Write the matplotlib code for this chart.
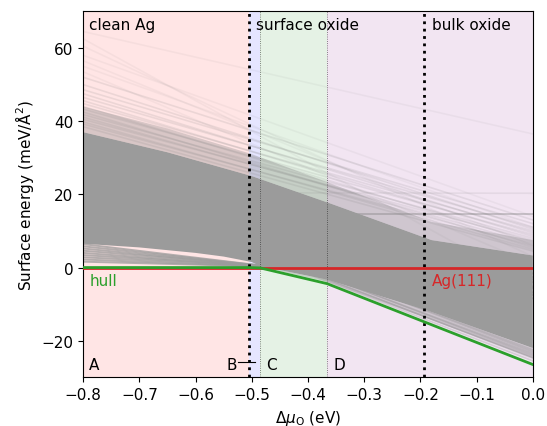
import matplotlib
matplotlib.use("Agg")
import matplotlib.pyplot as plt
import numpy as np

# phase boundaries (eV)
mu_ab = -0.505
mu_bc = -0.485
mu_cd = -0.366
mu_bulk = -0.193

# convex hull of the surface energies
hull_mu = [-0.8, -0.505, -0.485, -0.366, 0.0]
hull_gamma = [0.0, 0.0, -0.1, -4.4, -26.5]

# dense core of the candidate structures (upper / lower edge)
core_top_mu = [-0.8, -0.65, -0.5, -0.36, -0.18, 0.0]
core_top_gamma = [37.0, 31.5, 25.0, 17.5, 7.5, 3.3]
core_bot_mu = [-0.8, -0.7, -0.6, -0.55, -0.5, -0.485, -0.366, -0.183, 0.0]
core_bot_gamma = [6.5, 5.5, 4.0, 3.0, 1.5, 0.4, -3.3, -12.0, -22.0]

# softer fringe above and below the core
halo_top_mu = [-0.8, -0.65, -0.5, -0.36, -0.18, 0.0]
halo_top_gamma = [44.0, 38.0, 31.0, 23.0, 12.5, 7.5]
halo_bot_mu = [-0.485, -0.366, -0.183, 0.0]
halo_bot_gamma = [0.2, -3.9, -14.2, -24.8]

# single structures, gamma at mu=-0.8 and at mu=0
edge_left = [38.5, 39.2, 39.8, 40.5, 41.1, 41.8, 42.5, 43.3, 44.0, 44.8,
             45.6, 46.5, 47.5, 48.6, 50.0, 52.0]
edge_right = [4.5, 6.0, 5.0, 7.5, 6.5, 8.0, 5.5, 9.0, 7.0, 10.0,
              8.5, 11.0, 9.5, 12.0, 10.5, 13.0]
sparse_left = [64.5, 62.5, 60.5, 58.0, 56.5, 55.0, 53.5]
sparse_right = [36.5, -5.0, 3.0, 14.0, 6.0, 11.0, 1.0]
lower_left = [22.0, 22.5, 23.0, 22.2, 24.0, 21.8, 23.5, 25.0]
lower_right = [-25.5, -24.8, -24.0, -23.5, -23.0, -24.5, -22.5, -21.5]
streak_left = [1.6, 2.2, 2.8, 3.4, 4.0, 4.6, 5.2, 5.8, 6.4]
streak_right = [-1.6, -2.6, -3.2, -4.0, -5.2, -5.6, -6.8, -7.5, -8.4]
flat_left = [14.5, 20.5]
flat_right = [14.5, 20.3]

fig, ax = plt.subplots(figsize=(5.47, 4.27), dpi=100)
fig.subplots_adjust(left=0.152, right=0.974, top=0.971, bottom=0.114)

ax.axvspan(-0.8, mu_ab, color="red", alpha=0.1, lw=0, zorder=0)
ax.axvspan(mu_ab, mu_bc, color="blue", alpha=0.1, lw=0, zorder=0)
ax.axvspan(mu_bc, mu_cd, color="green", alpha=0.1, lw=0, zorder=0)
ax.axvspan(mu_cd, 0.0, color="purple", alpha=0.1, lw=0, zorder=0)

# halo: fuzzy fringe of the band
ax.fill(halo_top_mu + core_top_mu[::-1], halo_top_gamma + core_top_gamma[::-1],
        color="gray", alpha=0.3, lw=0, zorder=0.8)
ax.fill(halo_bot_mu + core_bot_mu[::-1][:4], halo_bot_gamma + core_bot_gamma[::-1][:4],
        color="gray", alpha=0.3, lw=0, zorder=0.8)

ends = [-0.8, 0.0]
for a, b in zip(edge_left, edge_right):
    ax.plot(ends, [a, b], color="gray", alpha=0.15, lw=1.2, zorder=1)
for a, b in zip(sparse_left, sparse_right):
    ax.plot(ends, [a, b], color="gray", alpha=0.07, lw=1.2, zorder=1)
for a, b in zip(lower_left, lower_right):
    ax.plot(ends, [a, b], color="gray", alpha=0.25, lw=1.2, zorder=1)
for a, b in zip(streak_left, streak_right):
    ax.plot(ends, [a, b], color="#9b9b9b", alpha=0.75, lw=1.4, zorder=1)
ax.plot(ends, [flat_left[0], flat_right[0]], color="gray", alpha=0.45, lw=1.2, zorder=1)
ax.plot(ends, [flat_left[1], flat_right[1]], color="gray", alpha=0.12, lw=1.2, zorder=1)

# core band drawn over the single lines
poly_x = core_top_mu + core_bot_mu[::-1]
poly_y = core_top_gamma + core_bot_gamma[::-1]
ax.fill(poly_x, poly_y, color="#9b9b9b", lw=0, zorder=1.5)

# boundaries
for m in [mu_bc, mu_cd]:
    ax.axvline(m, color="k", ls=":", lw=0.6, alpha=0.6, zorder=2)
for m in [mu_ab, mu_bulk]:
    ax.axvline(m, color="k", ls=":", lw=2, zorder=2)

ax.plot([-0.8, 0.0], [0, 0], color="tab:red", lw=2, zorder=3)
ax.plot(hull_mu, hull_gamma, color="tab:green", lw=2, zorder=4)

ax.text(-0.789, 66.3, "clean Ag", fontsize=11, va="center")
ax.text(-0.493, 66.3, "surface oxide", fontsize=11, va="center")
ax.text(-0.179, 66.3, "bulk oxide", fontsize=11, va="center")
ax.text(-0.788, -3.5, "hull", color="tab:green", fontsize=11, va="center")
ax.text(-0.179, -3.6, "Ag(111)", color="tab:red", fontsize=11, va="center")

ax.text(-0.789, -26.6, "A", fontsize=11, va="center")
ax.text(-0.545, -26.6, "B", fontsize=11, va="center")
ax.plot([-0.525, -0.494], [-25.8, -25.8], color="k", lw=0.8, zorder=5)
ax.text(-0.474, -26.6, "C", fontsize=11, va="center")
ax.text(-0.354, -26.6, "D", fontsize=11, va="center")

ax.set_xlim(-0.8, 0.0)
ax.set_ylim(-30, 70)
ax.set_xticks(np.arange(-0.8, 0.01, 0.1))
ax.set_yticks([-20, 0, 20, 40, 60])
ax.tick_params(labelsize=11)
ax.set_xlabel(r"$\Delta\mu_\mathrm{O}$ (eV)", fontsize=11)
ax.set_ylabel(r"Surface energy (meV/Å$^2$)", fontsize=11)

fig.savefig("out.png", dpi=100)
